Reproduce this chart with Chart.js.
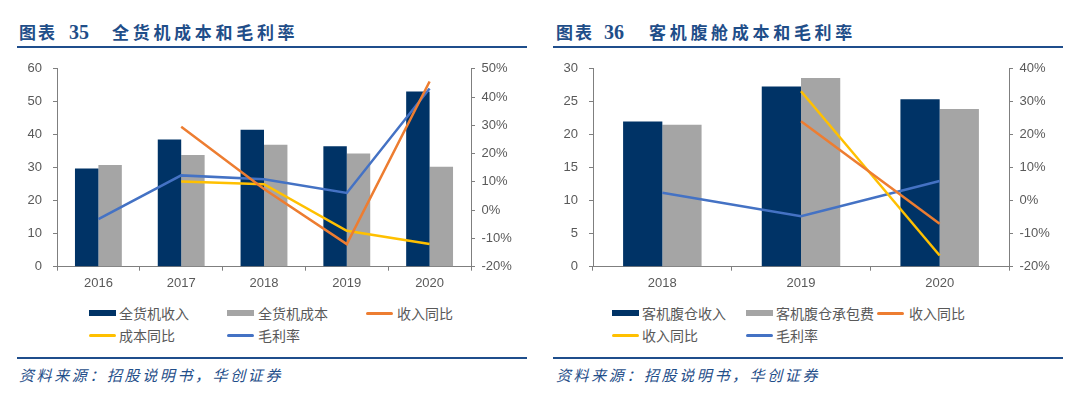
<!DOCTYPE html>
<html>
<head>
<meta charset="utf-8">
<script src="https://cdn.jsdelivr.net/npm/chart.js@4/dist/chart.umd.min.js"></script>
<style>
  body { margin: 0; background: #fff; }
  #page { position: relative; width: 1080px; height: 399px; overflow: hidden; }
  .abs { position: absolute; white-space: nowrap; }
  .ttl { color: #1f4e89; font-family: "Noto Sans CJK SC", sans-serif; font-weight: 700; font-size: 17px; line-height: 20px; }
  .num { font-family: "Liberation Serif", serif; font-weight: 700; font-size: 20px; line-height: 20px; }
  .rule { position: absolute; height: 2px; background: #1f4e8c; }
  .src { color: #1f4e89; font-family: "Noto Sans CJK SC", sans-serif; font-style: italic; font-size: 15px; letter-spacing: 2.6px; line-height: 18px; }
  .lg { color: #595959; font-family: "Noto Sans CJK SC", sans-serif; font-size: 14px; line-height: 18px; }
  canvas { position: absolute; top: 50px; }
</style>
</head>
<body>
<div id="page">
  <!-- left panel -->
  <div class="abs ttl" style="left:19px;top:22px;letter-spacing:2px;">图表</div>
  <div class="abs ttl num" style="left:69px;top:22px;">35</div>
  <div class="abs ttl" style="left:112px;top:22px;letter-spacing:3.7px;">全货机成本和毛利率</div>
  <div class="rule" style="left:17px;top:46px;width:510px;"></div>
  <canvas id="chartCargo" width="540" height="240" style="left:0px;"></canvas>
  <div id="legendCargo"></div>
  <div class="rule" style="left:17px;top:357px;width:510px;"></div>
  <div class="abs src" style="left:19px;top:366px;">资料来源：招股说明书，华创证券</div>

  <!-- right panel -->
  <div class="abs ttl" style="left:556px;top:22px;letter-spacing:2px;">图表</div>
  <div class="abs ttl num" style="left:604px;top:22px;">36</div>
  <div class="abs ttl" style="left:649px;top:22px;letter-spacing:3.7px;">客机腹舱成本和毛利率</div>
  <div class="rule" style="left:553px;top:46px;width:510px;"></div>
  <canvas id="chartBelly" width="540" height="240" style="left:540px;"></canvas>
  <div id="legendBelly"></div>
  <div class="rule" style="left:553px;top:357px;width:510px;"></div>
  <div class="abs src" style="left:556px;top:366px;">资料来源：招股说明书，华创证券</div>
</div>

<script>
// 全货机 (亿元 / %)
var cargoYears = ['2016', '2017', '2018', '2019', '2020'];
var cargoRevenue = [29.8, 38.6, 41.5, 36.5, 53.1];
var cargoCost = [30.8, 33.9, 37.0, 34.3, 30.3];
var cargoRevYoy = [null, 29.5, 7.5, -12.0, 45.5];
var cargoCostYoy = [null, 10.1, 9.2, -7.3, -12.0];
var cargoMargin = [-3.2, 12.3, 10.9, 6.1, 43.0];
var cargoLabels = ['全货机收入', '全货机成本', '收入同比', '成本同比', '毛利率'];

// 客机腹舱
var bellyYears = ['2018', '2019', '2020'];
var bellyRevenue = [22.0, 27.3, 25.4];
var bellyCost = [21.5, 28.6, 23.9];
var bellyRevYoy = [null, 24.1, -7.0];
var bellyCostYoy = [null, 33.2, -16.6];
var bellyMargin = [2.4, -4.7, 6.0];
var bellyLabels = ['客机腹仓收入', '客机腹仓承包费', '收入同比', '收入同比', '毛利率'];

var colors = ['#003366', '#a5a5a5', '#ed7d31', '#ffc000', '#4472c4'];

Chart.defaults.font.family = '"Liberation Sans", Arial, sans-serif';
Chart.defaults.font.size = 13;
Chart.defaults.color = '#595959';

function makeDatasets(labels, rev, cost, revYoy, costYoy, margin) {
     var lines = [revYoy, costYoy, margin];
     var ds = [
          { type: 'bar', label: labels[0], data: rev, backgroundColor: colors[0], yAxisID: 'y', order: 2 },
          { type: 'bar', label: labels[1], data: cost, backgroundColor: colors[1], yAxisID: 'y', order: 2 }
     ];
     lines.forEach(function(d, i){
          ds.push({
               type: 'line', label: labels[i + 2], data: d, borderColor: colors[i + 2],
               backgroundColor: colors[i + 2], borderWidth: 2.5, pointRadius: 0,
               tension: 0, yAxisID: 'y1', order: 1
          });
     });
     return ds;
}

function axisStyle() {
     return {
          grid: { drawOnChartArea: false, drawTicks: true, tickLength: 4, color: '#7f7f7f' },
          border: { color: '#7f7f7f', width: 1 }
     };
}

function makeConfig(years, datasets, yMax, yStep, pMin, pMax, leftW, rightW) {
     var x = axisStyle(), y = axisStyle(), y1 = axisStyle();
     x.ticks = { padding: 4.5, autoSkip: false, maxRotation: 0 };
     x.afterFit = function(s){ s.height = 23.3; };
     y.position = 'left';
     y.min = 0; y.max = yMax;
     y.ticks = { stepSize: yStep, padding: 11 };
     y.afterFit = function(s){ s.width = leftW; };
     y1.position = 'right';
     y1.min = pMin; y1.max = pMax;
     y1.ticks = { stepSize: 10, padding: 6.5, callback: function(v){ return v + '%'; } };
     y1.afterFit = function(s){ s.width = rightW; };
     return {
          type: 'bar',
          data: { labels: years, datasets: datasets },
          options: {
               responsive: false,
               animation: false,
               devicePixelRatio: 1,
               layout: { padding: { top: 16, left: 0, right: 0, bottom: 0 } },
               datasets: { bar: { categoryPercentage: 0.566, barPercentage: 1.0 } },
               plugins: { legend: { display: false }, tooltip: { enabled: false } },
               scales: { x: x, y: y, y1: y1 }
          }
     };
}

// html legend, two rows of three columns
function drawLegend(id, labels, cols) {
     var box = document.getElementById(id);
     var rows = [313, 335];
     labels.forEach(function(txt, i){
          var r = Math.floor(i / 3), c = i % 3;
          var sym = document.createElement('div');
          sym.className = 'abs';
          var isBar = i < 2;
          sym.style.left = cols[c][0] + 'px';
          sym.style.width = '27px';
          sym.style.height = (isBar ? 6 : 3) + 'px';
          sym.style.top = (rows[r] - (isBar ? 3 : 1.5)) + 'px';
          sym.style.background = colors[i];
          if (!isBar) sym.style.borderRadius = '1.5px';
          box.appendChild(sym);
          var t = document.createElement('div');
          t.className = 'abs lg';
          t.style.left = cols[c][1] + 'px';
          t.style.top = (rows[r] - 9) + 'px';
          t.textContent = txt;
          box.appendChild(t);
     });
}

window.onload = function() {
     new Chart(document.getElementById('chartCargo').getContext('2d'),
          makeConfig(cargoYears,
               makeDatasets(cargoLabels, cargoRevenue, cargoCost, cargoRevYoy, cargoCostYoy, cargoMargin),
               60, 10, -20, 50, 57, 69));
     new Chart(document.getElementById('chartBelly').getContext('2d'),
          makeConfig(bellyYears,
               makeDatasets(bellyLabels, bellyRevenue, bellyCost, bellyRevYoy, bellyCostYoy, bellyMargin),
               30, 5, -20, 40, 53, 71));
     drawLegend('legendCargo', cargoLabels, [[89, 119], [227, 258], [366, 397]]);
     drawLegend('legendBelly', bellyLabels, [[612, 642], [746, 776], [877, 909]]);
};
</script>
</body>
</html>
